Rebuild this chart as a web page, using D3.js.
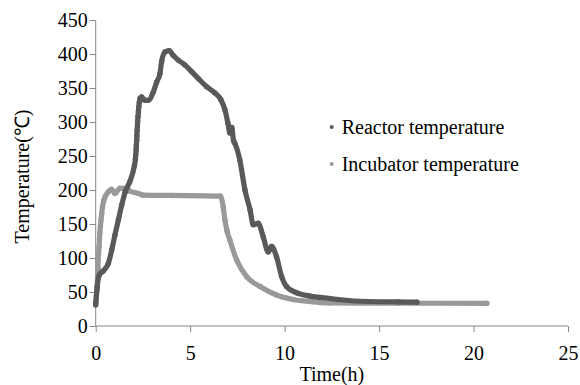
<!DOCTYPE html>
<html><head><meta charset="utf-8">
<script src="https://cdn.jsdelivr.net/npm/d3@7"></script>
</head><body style="margin:0"><svg id="c" width="580" height="385" style="font-family:'Liberation Serif'"></svg>
<script>
const xTicks=[0,5,10,15,20,25];
const yTicks=[0,50,100,150,200,250,300,350,400,450];
const seriesNames=["Reactor temperature","Incubator temperature"];
const seriesColors=["#595959","#999999"];
const reactorTime=[0,0.08,0.19,0.4,0.67,0.85,1.02,1.2,1.38,1.56,1.8,2.05,2.1,2.12,2.14,2.15,2.17,2.18,2.19,2.21,2.22,2.24,2.26,2.28,2.31,2.35,2.43,2.6,2.78,3.05,3.23,3.4,3.49,3.67,3.89,4.1,4.37,4.72,5.08,5.43,5.87,6.3,6.62,6.84,7.0,7.1,7.2,7.3,7.36,7.63,7.9,8.17,8.34,8.6,8.87,9.13,9.31,9.57,9.84,10.1,10.63,11.34,11.86,12.8,14.3,16.0,17.0];
const reactorTemp=[31,58,75,81,92,112,134,156,178,197,212,236,245,252,259,266,273,280,287,294,301,308,315,322,329,335,337,332,332,344,359,371,389,403,405,398,391,384,374,364,352,343,333,318,298,284,292,272,269,244,200,171,149,151,131,109,117,102,73,58,49,44,42,39,36,35.5,35];
const incubatorTime=[0,0.04,0.07,0.09,0.1,0.12,0.13,0.15,0.18,0.2,0.22,0.25,0.28,0.32,0.36,0.42,0.5,0.67,0.84,1.02,1.28,1.54,1.8,2.25,2.5,4,6.6,6.75,6.84,6.95,7.1,7.46,7.99,8.7,9.57,10.45,11.51,12.4,16,20.7];
const incubatorTemp=[34,45,55,65,75,86,97,107,117,127,137,147,156,166,175,184,190,197.5,201,195,202.5,202.5,198.5,195,192.5,192,191,175,156,140,126.5,97,72.5,58,45.6,39,35.7,33.8,33.5,33.4];

const svg=d3.select("#c");
const x=d3.scaleLinear().domain([0,25]).range([95.7,568]);
const y=d3.scaleLinear().domain([0,450]).range([326,20]);
const axisCol="#888";
const gx=svg.append("g").attr("transform","translate(0,326)").call(d3.axisBottom(x).tickValues(xTicks).tickSize(6).tickPadding(10));
const gy=svg.append("g").attr("transform","translate(95.7,0)").call(d3.axisLeft(y).tickValues(yTicks).tickSize(6).tickPadding(4));
[gx,gy].forEach(g=>{g.attr("font-family","Liberation Serif").attr("font-size",20);g.selectAll("path,line").attr("stroke",axisCol);g.selectAll("text").style("font-family","Liberation Serif").style("font-size","20px").attr("fill","#000");});
gx.select(".domain").attr("d","M95.7,0H568");
gy.select(".domain").attr("d","M0,326V20");
gy.selectAll("text").attr("x",-8).attr("dy","0.34em");
gx.selectAll("text").attr("dy","0.9em");

function label(sel){return sel.style("font-family","Liberation Serif").style("font-size","20px");}
label(svg.append("text").attr("x",331.8).attr("y",381).attr("text-anchor","middle")).text("Time(h)");
label(svg.append("text").attr("transform","translate(29,176.5) rotate(-90)").attr("text-anchor","middle")).text("Temperature(℃)");

const data=[reactorTime.map((t,i)=>[t,reactorTemp[i]]),incubatorTime.map((t,i)=>[t,incubatorTemp[i]])];
const line=d3.line().curve(d3.curveMonotoneX).x(d=>x(d[0])).y(d=>y(d[1]));
[1,0].forEach(k=>{
  const g=svg.append("g");
  g.append("path").attr("d",line(data[k])).attr("fill","none").attr("stroke",seriesColors[k]).attr("stroke-width",5.2).attr("stroke-linejoin","round").attr("stroke-linecap","round");
  g.selectAll("circle").data(data[k]).join("circle").attr("cx",d=>x(d[0])).attr("cy",d=>y(d[1])).attr("r",2.7).attr("fill",seriesColors[k]);
});

seriesNames.forEach((n,i)=>{
  const yy=[127,164][i];
  svg.append("circle").attr("cx",331.7).attr("cy",yy).attr("r",2).attr("fill",seriesColors[i]);
  label(svg.append("text").attr("x",341.7).attr("y",yy+7)).text(n);
});
</script></body></html>
